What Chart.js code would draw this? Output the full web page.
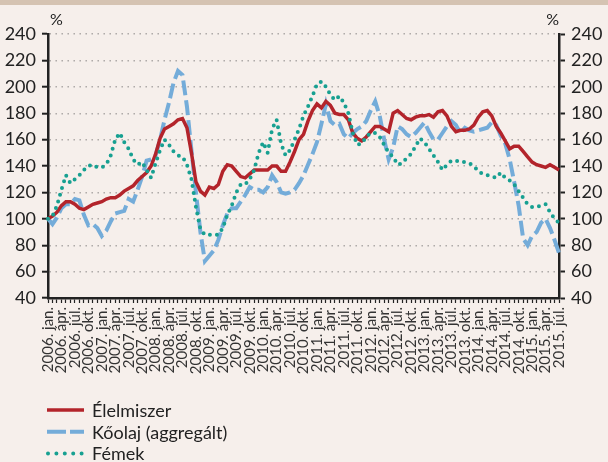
<!DOCTYPE html>
<html>
<head>
<meta charset="utf-8">
<script src="https://cdn.jsdelivr.net/npm/chart.js@4.4.0/dist/chart.umd.min.js"></script>
<style>
  html, body { margin: 0; padding: 0; background: #f6efeb; }
  #wrap { position: absolute; left: 0; top: 0; width: 608px; height: 462px; }
  #band { position: absolute; left: 0; top: 0; width: 608px; height: 5px; background: #d5c3b2; }
</style>
</head>
<body>
<div id="wrap"><canvas id="chart" width="608" height="462"></canvas></div>
<div id="band"></div>
<script>
// monthly index, 2006. jan. = 100
const years = [2006, 2007, 2008, 2009, 2010, 2011, 2012, 2013, 2014, 2015];
const monthNames = ['jan.', 'febr.', 'márc.', 'ápr.', 'máj.', 'jún.', 'júl.', 'aug.', 'szept.', 'okt.', 'nov.', 'dec.'];
const lastMonth = 7; // 2015. júl.

const seriesNames = ['Élelmiszer', 'Kőolaj (aggregált)', 'Fémek'];

const food = [
  100, 102, 105, 110, 113, 113, 111, 108, 107, 109, 111, 112,
  113, 115, 116, 116, 118, 121, 123, 125, 129, 132, 135, 140,
  149, 161, 168, 170, 172, 175, 176, 169, 150, 128, 121, 118,
  124, 123, 126, 136, 141, 140, 136, 132, 131, 134, 137, 137,
  137, 137, 140, 140, 136, 136, 143, 151, 160, 164, 174, 182,
  187, 184, 189, 186, 180, 179, 179, 175, 165, 161, 159, 162,
  166, 170, 170, 168, 166, 180, 182, 179, 176, 175, 177, 178,
  178, 179, 177, 181, 182, 178, 170, 166, 167, 167, 168, 171,
  177, 181, 182, 178, 170, 165, 159, 153, 155, 155, 151, 147,
  143, 141, 140, 139, 141, 139, 137
];

const oil = [
  100, 96, 101, 108, 111, 111, 115, 114, 103, 95, 96, 93,
  87, 91, 98, 104, 105, 106, 115, 113, 122, 132, 144, 145,
  148, 160, 175, 188, 203, 212, 209, 185, 152, 120, 90, 68,
  72, 76, 84, 95, 104, 108, 108, 113, 118, 124, 122, 122,
  120, 124, 133, 128, 120, 119, 120, 122, 127, 133, 141, 149,
  158, 172, 187, 174, 171, 172, 164, 161, 165, 168, 170, 174,
  182, 189, 178, 160, 145, 154, 170, 168, 164, 162, 165, 169,
  173, 166, 160, 160, 165, 170, 174, 171, 165, 169, 167, 166,
  167, 168, 169, 173, 171, 163, 157, 145, 128, 110, 85, 80,
  87, 90, 97, 100, 93, 84, 74
];

const metals = [
  100, 102, 110, 122, 133, 127, 130, 133, 137, 140, 141, 139,
  139, 141, 148, 160, 165, 158, 153, 145, 141, 143, 137, 131,
  142, 152, 160, 156, 151, 148, 147, 141, 130, 109, 92, 88,
  88, 88, 88, 93, 103, 110, 120, 126, 126, 130, 137, 150,
  158, 150, 168, 175, 157, 148, 152, 160, 168, 178, 185, 193,
  202, 204, 200, 194, 190, 193, 188, 180, 165, 156, 157, 162,
  165, 165, 162, 156, 150, 147, 141, 142, 146, 149, 155, 161,
  158, 153, 148, 143, 137, 141, 144, 144, 143, 143, 142, 140,
  136, 134, 133, 132, 131, 135, 131, 129, 126, 121, 116, 111,
  109, 109, 110, 111, 105, 100, 97
];

const labels = [];
years.forEach(y => {
  monthNames.forEach((m, i) => {
    if (y < 2015 || i < lastMonth) labels.push(y + '. ' + m);
  });
});

const FONT = 'Lato';

// legend drawn under the axis, one row per series
const bottomLegend = {
  id: 'bottomLegend',
  afterDraw(chart) {
    const ctx = chart.ctx;
    chart.data.datasets.forEach((ds, i) => {
      const y = 410 + i * 21.7;
      ctx.save();
      ctx.strokeStyle = ds.borderColor;
      ctx.lineWidth = ds.borderWidth;
      ctx.lineCap = ds.borderCapStyle || 'butt';
      ctx.setLineDash(ds.legendDash);
      ctx.beginPath();
      ctx.moveTo(ds.legendStart, y);
      ctx.lineTo(84, y);
      ctx.stroke();
      ctx.restore();
      ctx.save();
      ctx.fillStyle = '#222';
      ctx.font = '18px ' + FONT;
      ctx.textBaseline = 'middle';
      ctx.fillText(ds.label, 92, y + 1);
      ctx.restore();
    });
    // % units above both axes
    ctx.save();
    ctx.fillStyle = '#222';
    ctx.font = '16px ' + FONT;
    ctx.textBaseline = 'middle';
    ctx.textAlign = 'left';
    ctx.fillText('%', chart.chartArea.left + 2, 20);
    ctx.textAlign = 'right';
    ctx.fillText('%', chart.chartArea.right, 20);
    ctx.restore();
  }
};

const axisColor = '#222';

new Chart(document.getElementById('chart').getContext('2d'), {
  type: 'line',
  data: {
    labels: labels,
    datasets: [
      {
        label: seriesNames[0],
        data: food,
        borderColor: '#b3242b',
        borderWidth: 3.5,
        pointRadius: 0,
        order: 1,
        legendDash: [],
        legendStart: 47,
      },
      {
        label: seriesNames[1],
        data: oil,
        borderColor: '#74acd9',
        borderWidth: 4,
        borderDash: [15, 5],
        pointRadius: 0,
        order: 2,
        legendDash: [19, 4],
        legendStart: 47,
      },
      {
        label: seriesNames[2],
        data: metals,
        borderColor: '#17a091',
        borderWidth: 4,
        borderDash: [0, 7],
        borderCapStyle: 'round',
        pointRadius: 0,
        order: 0,
        legendDash: [0, 8.4],
        legendStart: 48,
      },
    ],
  },
  options: {
    responsive: false,
    animation: false,
    devicePixelRatio: 1,
    layout: { padding: { top: 34, right: 0, bottom: 0, left: 0 } },
    plugins: {
      legend: { display: false },
      tooltip: { enabled: false },
    },
    scales: {
      x: {
        type: 'category',
        offset: false,
        grid: {
          drawOnChartArea: false,
          drawTicks: true,
          tickLength: 5,
          tickColor: axisColor,
          tickWidth: 1.2,
        },
        border: { display: true, color: axisColor, width: 2.5 },
        ticks: {
          autoSkip: false,
          minRotation: 90,
          maxRotation: 90,
          padding: 4,
          color: '#333',
          font: { family: FONT, size: 15 },
          callback(value, index) {
            return index % 3 === 0 ? this.getLabelForValue(value) : '';
          },
        },
        afterFit(scale) { scale.height = 164; },
      },
      y: {
        position: 'left',
        min: 40,
        max: 240,
        ticks: {
          stepSize: 20,
          padding: 6,
          color: '#222',
          font: { family: FONT, size: 18 },
        },
        grid: {
          color: '#a8a4a2',
          lineWidth: 1.4,
          tickLength: 6,
          tickColor: axisColor,
          tickWidth: 2,
        },
        border: { display: true, color: axisColor, width: 2.5, dash: [1.4, 4.6] },
        afterFit(scale) { scale.width = 48; },
      },
      y2: {
        position: 'right',
        min: 40,
        max: 240,
        ticks: {
          stepSize: 20,
          padding: 6,
          color: '#222',
          font: { family: FONT, size: 18 },
        },
        grid: {
          drawOnChartArea: false,
          tickLength: 6,
          tickColor: axisColor,
          tickWidth: 2,
        },
        border: { display: true, color: axisColor, width: 2.5 },
        afterFit(scale) { scale.width = 49; },
      },
    },
  },
  plugins: [bottomLegend],
});
</script>
</body>
</html>
